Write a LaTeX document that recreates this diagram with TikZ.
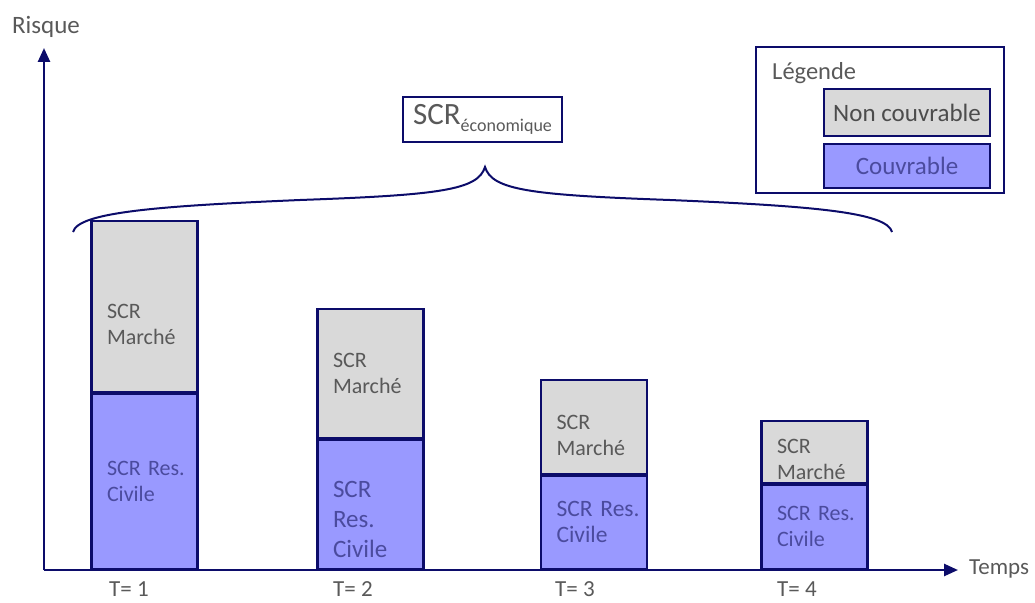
\documentclass[tikz,border=0pt]{standalone}
\usepackage{fontspec}
\setmainfont{Carlito}
\usepackage{tikz}
\usetikzlibrary{shapes,arrows.meta,positioning}
\definecolor{marine}{HTML}{0C0C6A}
\definecolor{grisfond}{HTML}{D9D9D9}
\definecolor{bleufond}{HTML}{9999FF}
\definecolor{gristexte}{HTML}{595959}
\definecolor{bleutexte}{HTML}{4B4B9E}
\tikzstyle{marche} = [rectangle, draw=marine, line width=2.2pt, fill=grisfond, text=gristexte,
    minimum width=106pt, text width=75pt, inner xsep=15.5pt, inner ysep=0pt, align=left,
    font=\fontsize{22}{26}\selectfont]
\tikzstyle{civile} = [marche, fill=bleufond, text=bleutexte]
\tikzstyle{etiquette} = [text=gristexte, font=\fontsize{23}{28}\selectfont, inner sep=0pt]
\tikzstyle{legbox} = [rectangle, draw=marine, line width=2pt, minimum width=166pt,
    font=\fontsize{25}{30}\selectfont, inner sep=0pt]
\tikzset{
  axe/.style ={draw=marine, line width=2.5pt, -{Triangle[length=14pt,width=12pt]}},
  accolade/.style ={draw=marine, line width=2pt}
}
% pousse le texte d'une barre vers le bas
\newcommand{\decale}[1]{\rule{0pt}{#1}}

\begin{document}
\begin{tikzpicture}[x=1pt, y=-1pt]
   \useasboundingbox (0,0) rectangle (1035,602);
   % axes
   \coordinate (origine) at (44,570);
   \coordinate (fin_y) at (44,48);
   \coordinate (fin_x) at (958,570);
   \node [etiquette, font=\fontsize{25}{30}\selectfont] (risque) at (46,27) {Risque};
   \node [etiquette, anchor=west] (temps) at (969,569) {Temps};
   \path [axe] (origine) -- (fin_y);
   \path [axe] (origine) -- (fin_x);
   % barres
   \node [civile, anchor=south, minimum height=175pt] (civ_1) at (144.5,570) {SCR~Res.\\Civile};
   \node [marche, above=0pt of civ_1, minimum height=171pt] (mar_1) {\decale{50pt}SCR\\Marché};
   \node [civile, anchor=south, minimum height=129pt, font=\fontsize{25}{30}\selectfont] (civ_2) at (370.5,570) {\decale{46pt}SCR\\Res.\\Civile};
   \node [marche, above=0pt of civ_2, minimum height=129pt] (mar_2) {SCR\\Marché};
   \node [civile, anchor=south, minimum height=93pt, font=\fontsize{23.5}{26}\selectfont] (civ_3) at (594,570) {SCR~Res.\\Civile};
   \node [marche, above=0pt of civ_3, minimum height=94pt] (mar_3) {\decale{32pt}SCR\\Marché};
   \node [civile, anchor=south, minimum height=84pt] (civ_4) at (814.5,570) {SCR~Res.\\Civile};
   \node [marche, above=0pt of civ_4, minimum height=62pt] (mar_4) {\decale{29pt}SCR\\Marché};
   \node [etiquette, anchor=base west] (t_1) at (109,596) {T= 1};
   \node [etiquette, anchor=base west] (t_2) at (333,596) {T= 2};
   \node [etiquette, anchor=base west] (t_3) at (555,596) {T= 3};
   \node [etiquette, anchor=base west] (t_4) at (777,596) {T= 4};
   % accolade
   \path [accolade] (73,232) .. controls (78,212) and (160,206) .. (300,200)
      .. controls (440,195) and (478,190) .. (485,167)
      .. controls (492,190) and (530,195) .. (670,200)
      .. controls (810,206) and (887,212) .. (892,232);
   \node [draw=marine, line width=1.5pt, minimum width=159pt, minimum height=45pt, text=gristexte, inner sep=0pt] (scr_eco) at (482.5,119.5)
      {\fontsize{31}{31}\selectfont SCR\raisebox{-7pt}{\fontsize{18}{18}\selectfont économique}};
   % legende
   \node [draw=marine, line width=2pt, minimum width=248pt, minimum height=146pt] (legende) at (880,120) {};
   \node [etiquette, anchor=base west, font=\fontsize{24.5}{29}\selectfont] (titre_legende) at (772,79) {Légende};
   \node [legbox, fill=grisfond, text=gristexte!85!black, minimum height=47pt] (leg_nonc) at (907,112.5) {Non couvrable};
   \node [legbox, fill=bleufond, text=bleutexte, minimum height=44pt, below=6pt of leg_nonc] (leg_couv) {Couvrable};
\end{tikzpicture}
\end{document}
